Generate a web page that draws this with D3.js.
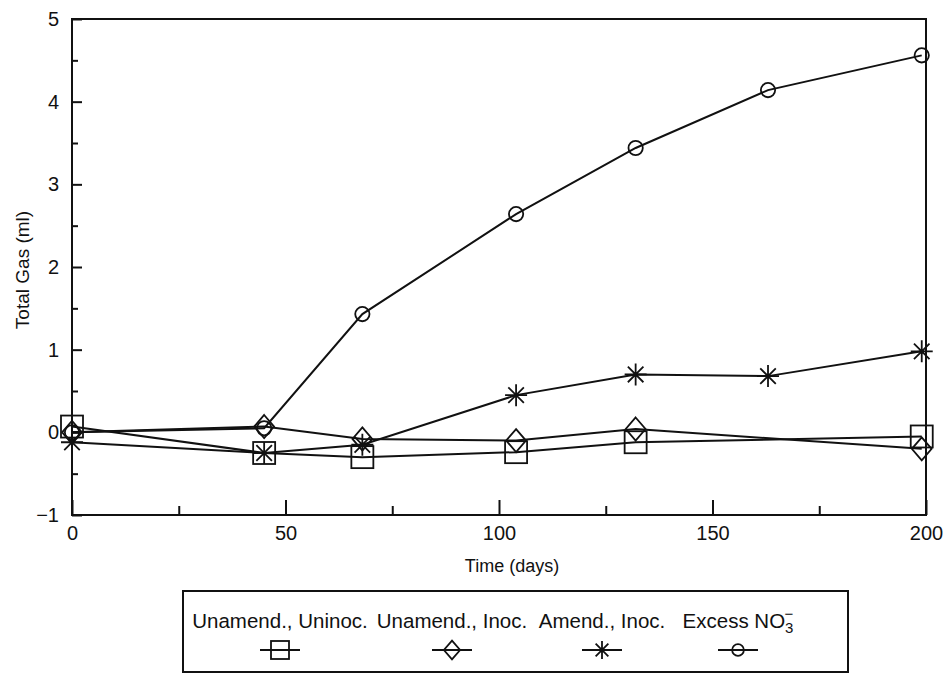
<!DOCTYPE html>
<html>
<head>
<meta charset="utf-8">
<script src="https://cdn.jsdelivr.net/npm/d3@7/dist/d3.min.js"></script>
<style>
  html, body { margin: 0; padding: 0; background: #fff; }
  svg { display: block; }
  text { font-family: "Liberation Sans", Arial, Helvetica, sans-serif; fill: #111; }
</style>
</head>
<body>
<svg id="chart" width="952" height="676"></svg>
<script>
// ---- data ----
const seriesNames = ["Unamend., Uninoc.", "Unamend., Inoc.", "Amend., Inoc.", "Excess NO"];
const seriesSymbols = ["square", "diamond", "asterisk", "circle"];
const daysUninoc = [0, 45, 68, 104, 132, 199];
const gasUninoc = [0.07, -0.25, -0.3, -0.24, -0.12, -0.05];
const daysInoc = [0, 45, 68, 104, 132, 199];
const gasInoc = [0.0, 0.07, -0.08, -0.1, 0.04, -0.2];
const daysAmend = [0, 45, 68, 104, 132, 163, 199];
const gasAmend = [-0.12, -0.25, -0.15, 0.45, 0.7, 0.68, 0.98];
const daysExcess = [0, 45, 68, 104, 132, 163, 199];
const gasExcess = [0.0, 0.05, 1.43, 2.64, 3.44, 4.14, 4.56];
const xTicks = [0, 50, 100, 150, 200];
const xMinorTicks = [25, 75, 125, 175];
const yTicks = [-1, 0, 1, 2, 3, 4, 5];
const yMinorTicks = [-0.5, 0.5, 1.5, 2.5, 3.5, 4.5];
const xLabel = "Time (days)";
const yLabel = "Total Gas (ml)";

const series = [
  {name: seriesNames[0], sym: seriesSymbols[0], x: daysUninoc, y: gasUninoc},
  {name: seriesNames[1], sym: seriesSymbols[1], x: daysInoc, y: gasInoc},
  {name: seriesNames[2], sym: seriesSymbols[2], x: daysAmend, y: gasAmend},
  {name: seriesNames[3], sym: seriesSymbols[3], x: daysExcess, y: gasExcess}
];

const svg = d3.select("#chart");
const L = 72, R = 926, T = 19, B = 515;
const x = d3.scaleLinear().domain([0, 200]).range([L, R]);
const y = d3.scaleLinear().domain([-1, 5]).range([B, T]);
const ink = "#111";
const FONT = "'Liberation Sans', Arial, sans-serif";

// frame
svg.append("rect").attr("x", L).attr("y", T).attr("width", R - L).attr("height", B - T)
  .attr("fill", "none").attr("stroke", ink).attr("stroke-width", 2);

// axes (ticks inside)
const xAxis = d3.axisBottom(x).tickValues(xTicks).tickSize(-15).tickPadding(23).tickFormat(d3.format("d"));
const gx = svg.append("g").attr("transform", `translate(0,${B})`).call(xAxis);
gx.select(".domain").remove();
gx.selectAll("line").attr("stroke", ink).attr("stroke-width", 2);
gx.selectAll("text").attr("font-size", 20).attr("dy", "0.1em").style("fill", ink).attr("font-family", FONT);
const gxm = svg.append("g").attr("transform", `translate(0,${B})`)
  .call(d3.axisBottom(x).tickValues(xMinorTicks).tickSize(-9).tickFormat(""));
gxm.select(".domain").remove();
gxm.selectAll("line").attr("stroke", ink).attr("stroke-width", 2);

const yAxis = d3.axisLeft(y).tickValues(yTicks).tickSize(-10).tickPadding(13).tickFormat(d3.format("d"));
const gy = svg.append("g").attr("transform", `translate(${L},0)`).call(yAxis);
gy.select(".domain").remove();
gy.selectAll("line").attr("stroke", ink).attr("stroke-width", 2);
gy.selectAll("text").attr("font-size", 20).style("fill", ink).attr("font-family", FONT);
const gym = svg.append("g").attr("transform", `translate(${L},0)`)
  .call(d3.axisLeft(y).tickValues(yMinorTicks).tickSize(-6).tickFormat(""));
gym.select(".domain").remove();
gym.selectAll("line").attr("stroke", ink).attr("stroke-width", 2);

// axis titles
svg.append("text").attr("x", 512).attr("y", 572).attr("text-anchor", "middle")
  .attr("font-size", 18).text(xLabel);
svg.append("text").attr("transform", "translate(29,270) rotate(-90)").attr("text-anchor", "middle")
  .attr("font-size", 19).text(yLabel);

// markers
function drawMarker(g, sym, cx, cy, s) {
  let el;
  if (sym === "square") {
    el = g.append("rect").attr("x", cx - s).attr("y", cy - s).attr("width", 2 * s).attr("height", 2 * s);
  } else if (sym === "diamond") {
    el = g.append("path").attr("d", `M${cx},${cy - s * 1.05}L${cx + s * 0.9},${cy}L${cx},${cy + s * 1.05}L${cx - s * 0.9},${cy}Z`);
  } else if (sym === "circle") {
    el = g.append("circle").attr("cx", cx).attr("cy", cy).attr("r", s * 0.65);
  } else {
    const p = [];
    for (let k = 0; k < 4; k++) {
      const a = k * Math.PI / 4;
      const dx = Math.cos(a) * s, dy = Math.sin(a) * s;
      p.push(`M${cx - dx},${cy - dy}L${cx + dx},${cy + dy}`);
    }
    el = g.append("path").attr("d", p.join(""));
  }
  el.attr("stroke", ink).attr("stroke-width", 1.8).attr("fill", "none");
}

const line = d3.line().x(d => x(d[0])).y(d => y(d[1]));
const plot = svg.append("g");
series.forEach(s => {
  const pts = s.x.map((d, i) => [d, s.y[i]]);
  plot.append("path").datum(pts).attr("d", line).attr("fill", "none")
    .attr("stroke", ink).attr("stroke-width", 2);
});
series.forEach(s => {
  s.x.forEach((d, i) => drawMarker(plot, s.sym, x(d), y(s.y[i]), 11));
});

// legend
const lg = svg.append("g");
lg.append("rect").attr("x", 183).attr("y", 591).attr("width", 665).attr("height", 81)
  .attr("fill", "#fff").attr("stroke", ink).attr("stroke-width", 2);
const legX = [280, 452, 602, 738];
series.forEach((s, i) => {
  const t = lg.append("text").attr("x", legX[i]).attr("y", 628).attr("text-anchor", "middle")
    .attr("font-size", 20.5).text(s.name);
  if (s.sym === "circle") {
    t.append("tspan").attr("font-size", 15).attr("dy", 5).text("3");
    t.append("tspan").attr("font-size", 15).attr("dx", -9).attr("dy", -14).text("−");
  }
  const my = 650;
  lg.append("line").attr("x1", legX[i] - 20).attr("x2", legX[i] + 20)
    .attr("y1", my).attr("y2", my).attr("stroke", ink).attr("stroke-width", 2);
  drawMarker(lg, s.sym, legX[i], my, 9);
});
</script>
</body>
</html>
